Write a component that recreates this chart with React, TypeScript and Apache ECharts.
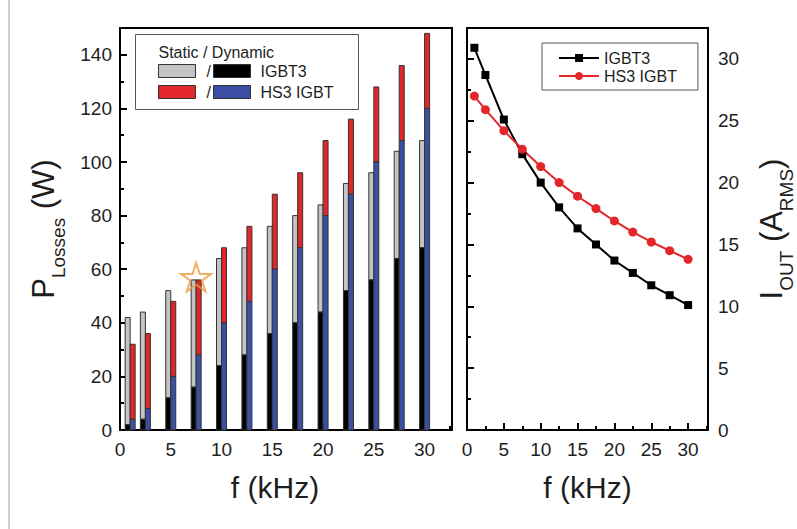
import React, { useEffect, useRef } from "react";
import * as echarts from "echarts";

// Frequencies (kHz)
const freq = [1, 2.5, 5, 7.5, 10, 12.5, 15, 17.5, 20, 22.5, 25, 27.5, 30];
// Losses (W)
const igbt3Dynamic = [2, 4, 12, 16, 24, 28, 36, 40, 44, 52, 56, 64, 68];
const igbt3Static = [40, 40, 40, 40, 40, 40, 40, 40, 40, 40, 40, 40, 40];
const hs3Dynamic = [4, 8, 20, 28, 40, 48, 60, 68, 80, 88, 100, 108, 120];
const hs3Static = [28, 28, 28, 28, 28, 28, 28, 28, 28, 28, 28, 28, 28];
// Output current (A RMS)
const igbt3Current = [30.9, 28.7, 25.1, 22.3, 20.0, 18.0, 16.3, 15.0, 13.7, 12.7, 11.7, 10.9, 10.1];
const hs3Current = [27.0, 25.9, 24.2, 22.7, 21.3, 20.0, 18.9, 17.9, 16.9, 16.0, 15.2, 14.5, 13.8];
// Highlighted operating point
const starPoint = [7.5, 57];

const FONT = "'Liberation Sans', Arial, sans-serif";
const TXT = "#1e1e1e";
const GREY = "#c4c4c4";
const BLACK = "#000";
const RED = "#e3262a";
const BLUE = "#3b4fa6";
const STAR =
  "path://M50,2 L61.8,37.6 L99,37.6 L68.8,59.6 L80.4,95 L50,73 L19.6,95 L31.2,59.6 L1,37.6 L38.2,37.6 Z";

const pairs = (ys: number[]) => freq.map((f, i) => [f, ys[i]]);
const triples = (dyn: number[], st: number[]) => freq.map((f, i) => [f, dyn[i], dyn[i] + st[i]]);

const BAR_W = 5;

function stackedBar(side: number, dynColor: string, statColor: string) {
  return (params: any, api: any) => {
    const f = api.value(0);
    const d = api.value(1);
    const t = api.value(2);
    const p0 = api.coord([f, 0]);
    const p1 = api.coord([f, d]);
    const p2 = api.coord([f, t]);
    const x = side < 0 ? p0[0] - BAR_W : p0[0];
    return {
      type: "group",
      children: [
        {
          type: "rect",
          shape: { x, y: p2[1], width: BAR_W, height: p1[1] - p2[1] },
          style: { fill: statColor, stroke: "#333", lineWidth: 1 },
        },
        {
          type: "rect",
          shape: { x, y: p1[1], width: BAR_W, height: p0[1] - p1[1] },
          style: { fill: dynColor, stroke: "#333", lineWidth: 1 },
        },
      ],
    };
  };
}

export default function App() {
  const ref = useRef<HTMLDivElement>(null);
  useEffect(() => {
    const chart = echarts.init(ref.current!, undefined, { renderer: "svg" });
    const axisLine = { show: true, lineStyle: { color: "#000", width: 2 } };
    const label = { color: TXT, fontSize: 19, fontFamily: FONT };
    const xCommon = (gi: number, pad: number[]) => ({
      type: "value",
      gridIndex: gi,
      min: 0,
      max: 32.7,
      interval: 5,
      axisLine,
      axisTick: { show: true, inside: true, length: 7, lineStyle: { color: "#000", width: 2 } },
      minorTick: { show: true, splitNumber: 2, length: 4, lineStyle: { color: "#000", width: 2 } },
      splitLine: { show: false },
      minorSplitLine: { show: false },
      axisLabel: { ...label, margin: 10, showMaxLabel: false },
      name: "f (kHz)",
      nameLocation: "middle",
      nameGap: 42,
      nameTextStyle: { color: TXT, fontSize: 30, fontFamily: FONT, padding: pad },
    });
    const rich = {
      m: { fontSize: 31, fontFamily: FONT, color: TXT, lineHeight: 40, verticalAlign: "top" },
      s: { fontSize: 19, fontFamily: FONT, color: TXT, lineHeight: 19, verticalAlign: "bottom" },
    };

    const option: any = {
      animation: false,
      backgroundColor: "#fff",
      grid: [
        { left: 120, top: 28, width: 332, height: 402, show: true, borderColor: "#000", borderWidth: 2, backgroundColor: "transparent" },
        { left: 467, top: 28, width: 248, height: 402, show: true, borderColor: "#000", borderWidth: 2, backgroundColor: "transparent" },
      ],
      xAxis: [xCommon(0, [0, 22, 0, 0]), xCommon(1, [0, 0, 0, 0])],
      yAxis: [
        {
          type: "value",
          gridIndex: 0,
          min: 0,
          max: 150,
          interval: 20,
          axisLine,
          axisTick: { show: true, inside: true, length: 7, lineStyle: { color: "#000", width: 2 } },
          minorTick: { show: true, splitNumber: 2, length: 4, lineStyle: { color: "#000", width: 2 } },
          splitLine: { show: false },
          axisLabel: { ...label, margin: 8, showMaxLabel: false },
          name: "{m|P}{s|Losses}{m| (W)}",
          nameLocation: "middle",
          nameGap: 52,
          nameTextStyle: { fontFamily: FONT, color: TXT, rich },
        },
        {
          type: "value",
          gridIndex: 1,
          position: "right",
          min: 0,
          max: 32.5,
          interval: 5,
          axisLine,
          axisTick: { show: true, inside: false, length: 7, lineStyle: { color: "#000", width: 2 } },
          minorTick: { show: true, splitNumber: 2, length: 4, lineStyle: { color: "#000", width: 2 } },
          splitLine: { show: false },
          axisLabel: { ...label, margin: 10, showMaxLabel: false },
          name: "{m|I}{s|OUT}{m| (A}{s|RMS}{m|)}",
          nameLocation: "middle",
          nameGap: 48,
          nameTextStyle: { fontFamily: FONT, color: TXT, rich },
        },
      ],
      legend: {
        data: ["IGBT3", "HS3 IGBT"],
        orient: "vertical",
        left: 542,
        top: 43,
        padding: [7, 21, 6, 16],
        itemGap: 2,
        itemWidth: 40,
        itemHeight: 10,
        borderColor: "#555",
        borderWidth: 1,
        textStyle: { color: TXT, fontSize: 16, fontFamily: FONT },
      },
      graphic: [
        {
          type: "line",
          shape: { x1: 9, y1: 0, x2: 9, y2: 529 },
          style: { stroke: "#9a9a9a", lineWidth: 1 },
          silent: true,
        },
        {
          type: "group",
          left: 135,
          top: 34,
          children: [
            { type: "rect", shape: { x: 0, y: 0, width: 223, height: 75 }, style: { fill: "#fff", stroke: "#555", lineWidth: 1 } },
            { type: "text", x: 23, y: 18, style: { text: "Static / Dynamic", fontSize: 16, fontFamily: FONT, fill: TXT, verticalAlign: "middle" } },
            { type: "rect", shape: { x: 23, y: 30, width: 37, height: 13 }, style: { fill: GREY, stroke: "#333", lineWidth: 1 } },
            { type: "text", x: 71, y: 37, style: { text: "/", fontSize: 16, fontFamily: FONT, fill: TXT, verticalAlign: "middle" } },
            { type: "rect", shape: { x: 78, y: 30, width: 37, height: 13 }, style: { fill: BLACK, stroke: "#333", lineWidth: 1 } },
            { type: "text", x: 125, y: 37, style: { text: "IGBT3", fontSize: 16, fontFamily: FONT, fill: TXT, verticalAlign: "middle" } },
            { type: "rect", shape: { x: 23, y: 51, width: 37, height: 13 }, style: { fill: RED, stroke: "#333", lineWidth: 1 } },
            { type: "text", x: 71, y: 58, style: { text: "/", fontSize: 16, fontFamily: FONT, fill: TXT, verticalAlign: "middle" } },
            { type: "rect", shape: { x: 78, y: 51, width: 37, height: 13 }, style: { fill: BLUE, stroke: "#333", lineWidth: 1 } },
            { type: "text", x: 125, y: 58, style: { text: "HS3 IGBT", fontSize: 16, fontFamily: FONT, fill: TXT, verticalAlign: "middle" } },
          ],
        },
      ],
      series: [
        {
          name: "IGBT3 losses",
          type: "custom",
          xAxisIndex: 0,
          yAxisIndex: 0,
          data: triples(igbt3Dynamic, igbt3Static),
          encode: { x: 0, y: [1, 2] },
          renderItem: stackedBar(-1, BLACK, GREY),
          z: 2,
        },
        {
          name: "HS3 losses",
          type: "custom",
          xAxisIndex: 0,
          yAxisIndex: 0,
          data: triples(hs3Dynamic, hs3Static),
          encode: { x: 0, y: [1, 2] },
          renderItem: stackedBar(1, BLUE, RED),
          z: 2,
        },
        {
          name: "star",
          type: "scatter",
          xAxisIndex: 0,
          yAxisIndex: 0,
          data: [starPoint],
          symbol: STAR,
          symbolSize: 30,
          symbolKeepAspect: true,
          itemStyle: { color: "rgba(255,255,255,0)", borderColor: "#ee9a3a", borderWidth: 2 },
          z: 5,
        },
        {
          name: "IGBT3",
          type: "line",
          xAxisIndex: 1,
          yAxisIndex: 1,
          data: pairs(igbt3Current),
          symbol: "rect",
          symbolSize: 8,
          lineStyle: { color: "#000", width: 2 },
          itemStyle: { color: "#000" },
        },
        {
          name: "HS3 IGBT",
          type: "line",
          xAxisIndex: 1,
          yAxisIndex: 1,
          data: pairs(hs3Current),
          symbol: "circle",
          symbolSize: 9,
          lineStyle: { color: RED, width: 2 },
          itemStyle: { color: RED },
        },
      ],
    };
    chart.setOption(option);
    return () => chart.dispose();
  }, []);
  return (
    <div
      ref={ref}
      style={{ position: "fixed", left: 0, top: 0, width: 797, height: 529, background: "#fff" }}
    />
  );
}
